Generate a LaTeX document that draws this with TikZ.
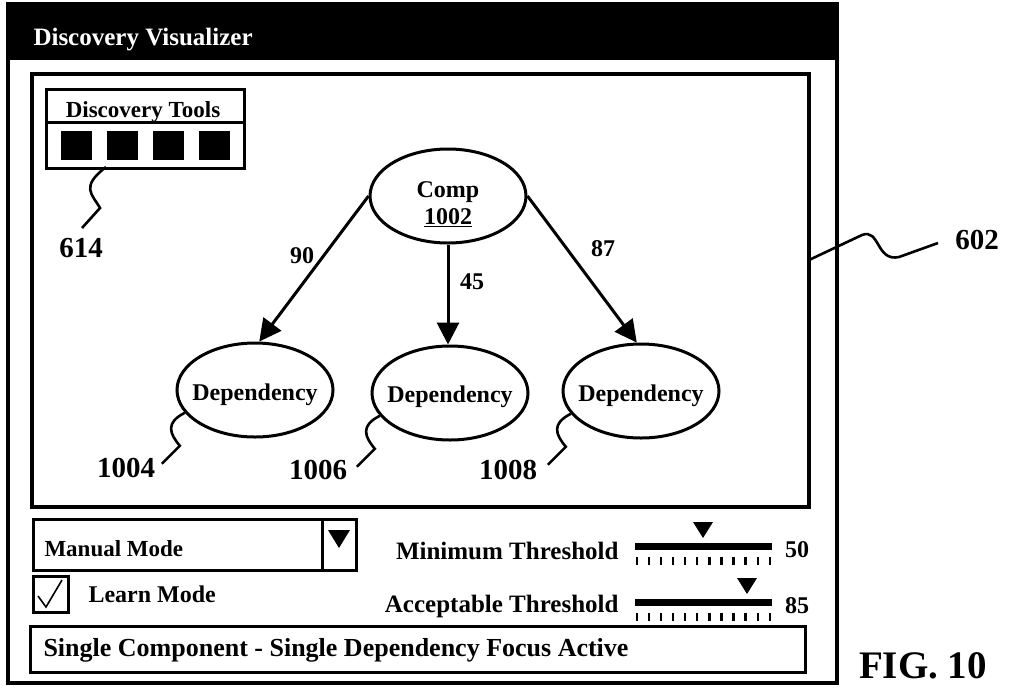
\documentclass[tikz,border=0pt]{standalone}
\usepackage{fontspec}
\setmainfont{Liberation Serif}
\usetikzlibrary{arrows.meta,shapes.geometric}

\begin{document}
\begin{tikzpicture}[x=1pt, y=-1pt, line width=3pt,
    every node/.style={font=\bfseries\fontsize{24}{27}\selectfont, inner sep=0pt, text depth=0pt},
    bubble/.style={draw, ellipse, minimum width=156pt, minimum height=94pt, line width=3pt},
    refnum/.style={font=\bfseries\fontsize{29}{32}\selectfont},
    arr/.style={-{Triangle[length=22pt,width=22pt]}, line width=3pt},
    lead/.style={line width=2.6pt}]
    \useasboundingbox (0,0) rectangle (1009,689);

    % window frame and title bar
    \fill (8,4) rectangle (837,60);
    \draw[line width=3.5pt] (8,4) rectangle (837,683);
    \node[anchor=west, text=white, font=\bfseries\fontsize{25}{28}\selectfont] (title) at (32,37) {Discovery Visualizer};

    % graph panel
    \draw[line width=3.5pt] (32,74) rectangle (809,507);

    % discovery tools palette
    \draw (46,89) rectangle (244,168);
    \draw (46,122) -- (244,122);
    \node[font=\bfseries\fontsize{23}{26}\selectfont] (tools) at (143,110) {Discovery Tools};
    \foreach \i in {0,...,3}
        \fill (61+46*\i,131) rectangle ++(31,29);

    % component and its dependencies
    \node[bubble] (comp) at (448,196) {};
    \node[align=center] (comptext) at (448,203) {Comp\\\underline{1002}};
    \node[bubble] (dep1) at (255,390) {};
    \node[bubble] (dep2) at (450,393) {};
    \node[bubble] (dep3) at (641,391) {};
    \node (dep1text) at (255,392) {Dependency};
    \node (dep2text) at (450,394) {Dependency};
    \node (dep3text) at (641,393) {Dependency};

    \draw[arr] (comp.west) -- (dep1.85);
    \draw[arr] (comp.south) -- (comp.south |- dep2.north);
    \draw[arr] (comp.east) -- (dep3.95);
    \node (w1) at (302,256) {90};
    \node (w2) at (472,282) {45};
    \node (w3) at (603,249) {87};

    % reference numerals
    \node[refnum] (n614) at (81,248) {614};
    \node[refnum] (n1004) at (126,468) {1004};
    \node[refnum] (n1006) at (318,470) {1006};
    \node[refnum] (n1008) at (508,470) {1008};
    \node[refnum] (n602) at (977,240) {602};
    \coordinate (e614) at (82,228);
    \coordinate (e602) at (938,243);
    \draw[lead] (106,167) .. controls +(-26,20) and +(-8,-14) .. (100,208) -- (e614);
    \draw[lead] (dep1.198) .. controls +(-20,10) and +(-10,-12) .. ++(-5,33) -- ++(-18,18);
    \draw[lead] (dep2.198) .. controls +(-20,10) and +(-10,-12) .. ++(-5,33) -- ++(-18,18);
    \draw[lead] (dep3.198) .. controls +(-20,10) and +(-10,-12) .. ++(-5,33) -- ++(-18,18);
    \draw[lead] (809,260) -- (862,235) .. controls (880,228) and (876,262) .. (899,257) -- (e602);

    % mode controls
    \draw (33,519) rectangle (356,570);
    \draw (322,519) -- (322,570);
    \fill (328,530) -- (350,530) -- (339,548) -- cycle;
    \node[anchor=west, font=\bfseries\fontsize{23}{26}\selectfont] (manual) at (43,549) {Manual Mode};
    \draw (33,576) rectangle (68,612);
    \draw[line width=1.6pt] (38,596) -- (46,607) -- (62,580);
    \node[anchor=west] (learn) at (87,594) {Learn Mode};

    % threshold sliders
    \node[anchor=east, font=\bfseries\fontsize{25}{28}\selectfont] (minth) at (620,551) {Minimum Threshold};
    \node[anchor=east, font=\bfseries\fontsize{25}{28}\selectfont] (accth) at (620,604) {Acceptable Threshold};
    \foreach \y/\v/\m in {546/50/703, 602/85/747} {
        \fill (635,\y-3.5) rectangle (772,\y+3.5);
        \foreach \i in {0,...,11}
            \fill (635.5+12.1*\i,\y+11) rectangle ++(2.4,8);
        \fill (\m-10,\y-24) -- (\m+10,\y-24) -- (\m,\y-8) -- cycle;
        \node (val\v) at (797,\y+4) {\v};
    }

    % status line
    \draw (30,626) rectangle (805,672);
    \node[anchor=west, font=\bfseries\fontsize{26}{29}\selectfont] (status) at (42,647) {Single Component - Single Dependency Focus Active};

    \node[font=\bfseries\fontsize{39}{42}\selectfont] (fig) at (923,666) {FIG. 10};
\end{tikzpicture}
\end{document}
